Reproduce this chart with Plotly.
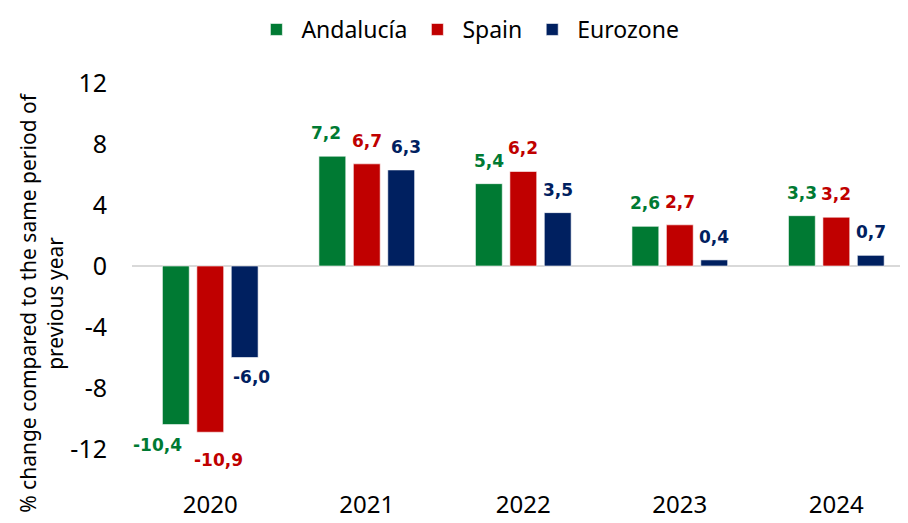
import plotly.graph_objects as go

years = ["2020", "2021", "2022", "2023", "2024"]
andalucia = [-10.4, 7.2, 5.4, 2.6, 3.3]
spain = [-10.9, 6.7, 6.2, 2.7, 3.2]
eurozone = [-6.0, 6.3, 3.5, 0.4, 0.7]
series_names = ["Andalucía", "Spain", "Eurozone"]
colors = ["#007A33", "#C00000", "#002060"]
y_ticks = [-12, -8, -4, 0, 4, 8, 12]

FONT = "Noto Sans"
LABEL_FONT = "DejaVu Sans"

def fmt(v):
    return f"{v:.1f}".replace(".", ",")

# bar slot offsets within a group (category units)
BARGAP = 0.34
slot = (1 - BARGAP) / 3
offsets = [-slot, 0.0, slot]
# label nudges (pixels) for crowded labels
neg_xshift = [-18, 8, 7]
neg_yshift = [-8, -16, -7]
crowded_xshift = {(0, 1): -6, (2, 1): 5}  # (series, category) -> px

fig = go.Figure()
annotations = []
for k, (name, vals, col) in enumerate(zip(series_names, [andalucia, spain, eurozone], colors)):
    fig.add_trace(go.Bar(
        x=list(range(len(years))), y=vals, name=name,
        marker=dict(color=col, line=dict(color="rgba(255,255,255,0.6)", width=1)),
    ))
    for i, v in enumerate(vals):
        lab = dict(x=i + offsets[k], y=v, xref="x", yref="y", text=fmt(v),
                   showarrow=False, xanchor="center",
                   font=dict(family=LABEL_FONT, size=17, color=col, weight="bold"))
        if v >= 0:
            lab.update(yanchor="bottom", yshift=11, xshift=crowded_xshift.get((k, i), 0))
        else:
            lab.update(yanchor="top", xshift=neg_xshift[k], yshift=neg_yshift[k])
        annotations.append(lab)

annotations.append(dict(text="% change compared to the same period of<br>previous year",
                        xref="paper", yref="paper", x=-0.117, y=0.40, textangle=-90,
                        showarrow=False, font=dict(size=21, family=FONT, color="black"),
                        xanchor="center", yanchor="middle"))

# page has an 8px body margin: figure is 900x515 so it fits the 908x523 window
fig.update_layout(
    width=900, height=515,
    margin=dict(l=124, r=0, t=75, b=74, autoexpand=False),
    paper_bgcolor="white", plot_bgcolor="white",
    barmode="group", bargap=BARGAP, bargroupgap=0.22,
    font=dict(family=FONT, color="black"),
    showlegend=True,
    legend=dict(orientation="h", xref="container", yref="container",
                x=0.511, xanchor="center", y=1.0, yanchor="top", itemwidth=40,
                font=dict(size=23, family=FONT), traceorder="normal"),
    xaxis=dict(range=[-0.5, 4.458], tickvals=list(range(len(years))), ticktext=years,
               showgrid=False, showline=False, zeroline=False, ticks="", automargin=False,
               tickfont=dict(size=24, family=FONT), ticklabelstandoff=39),
    yaxis=dict(range=[-12, 12], tickvals=y_ticks, ticktext=[str(t) for t in y_ticks],
               showgrid=False, showline=False, zeroline=True, zerolinecolor="#D9D9D9",
               zerolinewidth=2, ticks="", tickfont=dict(size=25, family=FONT),
               ticklabelstandoff=24, automargin=False),
    annotations=annotations,
)

fig.write_html("out.html")
